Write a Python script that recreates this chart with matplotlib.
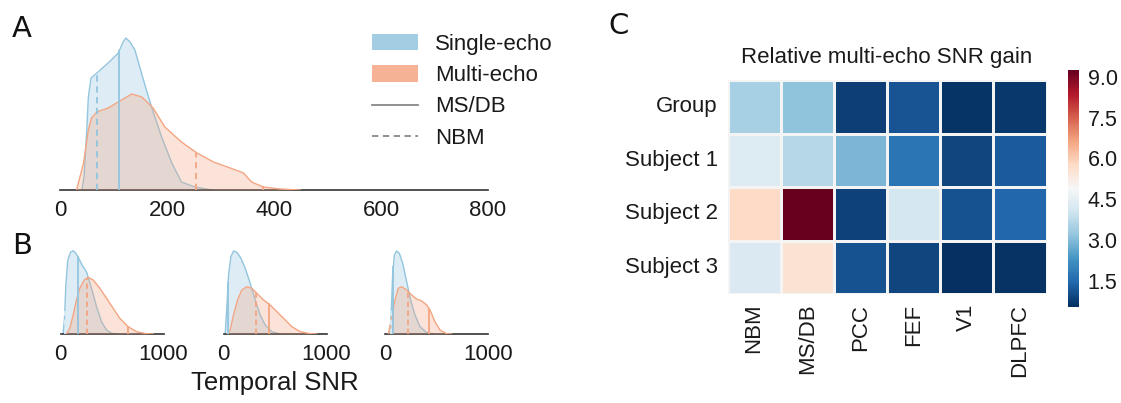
import numpy as np
import matplotlib
matplotlib.use('Agg')
import matplotlib.pyplot as plt
import seaborn as sns
from matplotlib.patches import Patch
from matplotlib.lines import Line2D

plt.rcParams['font.family'] = ['Liberation Sans', 'DejaVu Sans']

# ---------------- Panel A: group tSNR densities ----------------
a_single_x = [41, 45, 50, 53, 58, 69, 90, 109, 118, 123, 131, 140, 156, 171, 190, 209, 227, 252, 284]
a_single_y = [0, 13, 60, 93, 112, 117, 127, 137, 148, 152, 148, 140, 110, 83, 53, 27, 8, 3, 0]
a_multi_x = [31, 44, 53, 59, 69, 90, 109, 134, 153, 174, 196, 227, 256, 287, 318, 343, 358, 380, 411, 449]
a_multi_y = [0, 27, 60, 72, 78, 82, 88, 96, 93, 82, 63, 48, 37, 28, 22, 17, 8, 3, 1, 0]
a_single_nbm, a_single_msdb = 69, 111
a_multi_nbm, a_multi_msdb = 255, 380
a_ticks = [0, 200, 400, 600, 800]

# ---------------- Panel B: per-subject densities ----------------
b_single_x = [
    [25, 39, 52, 71, 97, 123, 149, 171, 204, 253, 301, 350, 398, 447, 495, 544],
    [16, 32, 49, 72, 97, 130, 169, 211, 259, 308, 356, 405, 469, 550],
    [49, 62, 74, 91, 113, 139, 172, 210, 249, 291, 340, 405, 469],
]
b_single_y = [
    [0, 15.7, 49, 74, 81.7, 83.3, 80.7, 77, 70, 62, 45.7, 27.3, 12.3, 4, 0.7, 0],
    [0, 25.7, 59, 77.3, 83, 81.7, 75.7, 65.7, 50.7, 34, 19, 9, 2.3, 0],
    [0, 25.7, 59, 79, 83, 80.7, 70.7, 52.3, 34, 19, 7.3, 1.3, 0],
]
b_multi_x = [
    [58, 90, 123, 155, 188, 230, 268, 317, 382, 447, 511, 576, 657, 738, 835, 900],
    [32, 65, 97, 136, 178, 227, 275, 324, 389, 453, 518, 583, 664, 745, 842, 906],
    [32, 65, 97, 129, 162, 210, 259, 307, 356, 405, 437, 485, 534, 599, 647],
]
b_multi_y = [
    [0, 5.7, 19, 34, 45.7, 54, 56.7, 54, 45.7, 35.7, 25.7, 15.7, 7.3, 2.3, 0.3, 0],
    [0, 4, 19, 34, 44, 47.3, 45.7, 40.7, 34, 29, 22.3, 15.7, 7.3, 2.3, 0.3, 0],
    [0, 15.7, 34, 45.7, 47.3, 44, 39, 35, 33, 29, 24, 12.3, 4, 0.3, 0],
]
b_single_nbm = [42, 39, 62]
b_single_msdb = [171, 45, 81]
b_multi_nbm = [262, 314, 220]
b_multi_msdb = [657, 437, 431]
b_ticks = [0, 1000]

# ---------------- Panel C: heatmap ----------------
regions = ['NBM', 'MS/DB', 'PCC', 'FEF', 'V1', 'DLPFC']
subjects = ['Group', 'Subject 1', 'Subject 2', 'Subject 3']
gain_group = [3.46, 3.16, 0.80, 1.15, 0.65, 0.70]
gain_subj1 = [4.30, 3.66, 2.90, 1.72, 0.90, 1.25]
gain_subj2 = [5.77, 9.25, 0.85, 4.15, 1.10, 1.45]
gain_subj3 = [4.24, 5.52, 1.10, 0.90, 0.55, 0.60]
cbar_ticks = [1.5, 3.0, 4.5, 6.0, 7.5, 9.0]

BLUE = '#92c5de'
ORANGE = '#f4a582'
W, H = 1121, 403
fig = plt.figure(figsize=(W / 100, H / 100), dpi=100)


def ax_px(l, r, t, b):
    return fig.add_axes([l / W, 1 - b / H, (r - l) / W, (b - t) / H])


def draw_density(ax, x, y, color, z):
    ax.fill_between(x, y, 0, color=color, alpha=0.3, lw=0, zorder=z)
    ax.plot(x, y, color=color, lw=1.0, zorder=z + 0.5)


def vline(ax, xv, cx, cy, color, ls):
    h = np.interp(xv, cx, cy)
    ax.plot([xv, xv], [0, h], color=color, lw=1.3, ls=ls, zorder=5)


def style(ax, xmax, ymax, ticks, fs):
    ax.set_xlim(0, xmax)
    ax.set_ylim(0, ymax)
    for s in ['left', 'right', 'top']:
        ax.spines[s].set_visible(False)
    ax.spines['bottom'].set_color('#333333')
    ax.spines['bottom'].set_linewidth(1.2)
    ax.set_yticks([])
    ax.set_xticks(ticks)
    ax.tick_params(axis='x', length=0, pad=7, labelsize=fs, colors='#1a1a1a')
    ax.patch.set_visible(False)


# Panel A
axA = ax_px(60, 488, 30, 190)
draw_density(axA, a_single_x, a_single_y, BLUE, 2)
draw_density(axA, a_multi_x, a_multi_y, ORANGE, 3)
vline(axA, a_single_nbm, a_single_x, a_single_y, BLUE, (0, (3.5, 2.5)))
vline(axA, a_single_msdb, a_single_x, a_single_y, BLUE, '-')
vline(axA, a_multi_nbm, a_multi_x, a_multi_y, ORANGE, (0, (3.5, 2.5)))
vline(axA, a_multi_msdb, a_multi_x, a_multi_y, ORANGE, '-')
style(axA, 800, 160, a_ticks, 16)

handles = [Patch(facecolor=BLUE, alpha=0.85, edgecolor='none'),
           Patch(facecolor=ORANGE, alpha=0.85, edgecolor='none'),
           Line2D([], [], color='#888888', lw=1.3),
           Line2D([], [], color='#888888', lw=1.3, ls=(0, (3.5, 2.5)))]
leg = fig.legend(handles, ['Single-echo', 'Multi-echo', 'MS/DB', 'NBM'],
                 loc='upper left', bbox_to_anchor=(372 / W, 1 - 34 / H),
                 frameon=False, fontsize=16, handlelength=2.05, handleheight=0.75,
                 handletextpad=0.8, labelspacing=0.46, borderpad=0, borderaxespad=0)
for t in leg.get_texts():
    t.set_color('#1a1a1a')

# Panel B
b_lr = [(60.5, 163.5), (223.5, 326.5), (385, 488)]
for i, (l, r) in enumerate(b_lr):
    ax = ax_px(l, r, 244, 334)
    draw_density(ax, b_single_x[i], b_single_y[i], BLUE, 2)
    draw_density(ax, b_multi_x[i], b_multi_y[i], ORANGE, 3)
    vline(ax, b_single_nbm[i], b_single_x[i], b_single_y[i], '#d8ecf6', (0, (3, 2)))
    vline(ax, b_single_msdb[i], b_single_x[i], b_single_y[i], BLUE, '-')
    vline(ax, b_multi_nbm[i], b_multi_x[i], b_multi_y[i], ORANGE, (0, (3, 2)))
    vline(ax, b_multi_msdb[i], b_multi_x[i], b_multi_y[i], ORANGE, '-')
    style(ax, 1000, 90, b_ticks, 16)
fig.text(275 / W, 1 - 383 / H, 'Temporal SNR', ha='center', va='center',
         fontsize=18.5, color='#1a1a1a')

# Panel C
axC = ax_px(727.5, 1046.5, 80, 294)
cax = ax_px(1067.7, 1079.3, 70, 306.7)
data = np.array([gain_group, gain_subj1, gain_subj2, gain_subj3])
sns.heatmap(data, ax=axC, cbar_ax=cax, cmap='RdBu_r', linewidths=0.8,
            linecolor='#f4f4f4', xticklabels=regions, yticklabels=subjects)
axC.set_title('Relative multi-echo SNR gain', fontsize=16, pad=12, color='#1a1a1a')
axC.tick_params(axis='both', length=0, labelsize=16, colors='#1a1a1a')
axC.tick_params(axis='y', pad=7)
axC.tick_params(axis='x', pad=7)
plt.setp(axC.get_xticklabels(), rotation=90)
plt.setp(axC.get_yticklabels(), rotation=0)
cax.set_yticks(cbar_ticks)
cax.set_yticklabels([f'{v:.1f}' for v in cbar_ticks])
cax.tick_params(length=0, labelsize=15.5, pad=6, colors='#1a1a1a')
for s in cax.spines.values():
    s.set_visible(False)

# Panel letters
for letter, x, y in [('A', 12, 29), ('B', 12, 246), ('C', 608, 26)]:
    fig.text(x / W, 1 - y / H, letter, fontsize=21, family='DejaVu Sans',
             ha='left', va='center', color='#111111')

fig.savefig('out.png', dpi=100, facecolor='white')
